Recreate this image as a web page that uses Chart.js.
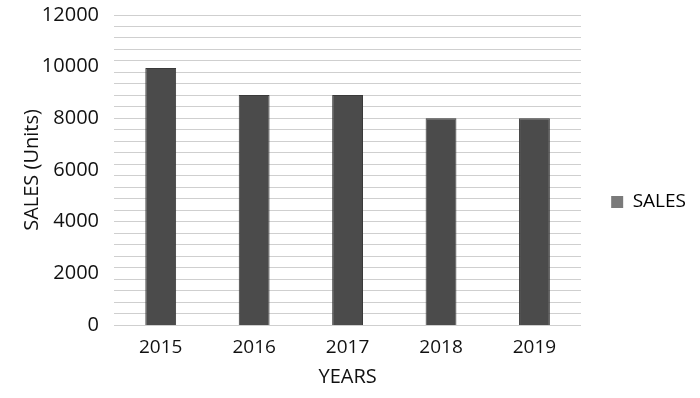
<!DOCTYPE html>
<html>
<head>
<meta charset="utf-8">
<script src="https://cdn.jsdelivr.net/npm/chart.js@4.4.0/dist/chart.umd.min.js"></script>
<style>
  html, body { margin: 0; padding: 0; background: #fff; }
  #wrap { width: 700px; height: 398px; }
</style>
</head>
<body>
<div id="wrap"><canvas id="salesChart"></canvas></div>
<script>
// values
const years = ['2015', '2016', '2017', '2018', '2019'];
const sales = [9950, 8900, 8900, 8000, 8000];
const yTicks = [0, 2000, 4000, 6000, 8000, 10000, 12000];

const ctx = document.getElementById('salesChart');
const fontFamily = '"Open Sans", sans-serif';

new Chart(ctx, {
    type: 'bar',
    data: {
        labels: years,
        datasets: [{
            label: 'SALES',
            data: sales,
            backgroundColor: '#4b4b4b',
            borderColor: '#3a3a3a',
            borderWidth: 1,
            categoryPercentage: 1,
            barPercentage: 0.33
        }]
    },
    options: {
        responsive: true,
        maintainAspectRatio: false,
        animation: false,
        layout: {
            padding: { top: 15, right: 4, bottom: 9, left: 20 }
        },
        plugins: {
            legend: {
                position: 'right',
                labels: {
                    boxWidth: 12,
                    boxHeight: 12,
                    padding: 10,
                    color: '#1a1a1a',
                    font: { size: 19, family: fontFamily },
                    generateLabels: function(chart) {
                        return [{
                            text: 'SALES',
                            fillStyle: '#7a7a7a',
                            strokeStyle: '#7a7a7a',
                            lineWidth: 0,
                            datasetIndex: 0
                        }];
                    }
                }
            },
            tooltip: { enabled: false }
        },
        scales: {
            x: {
                grid: { display: false, drawTicks: false },
                border: { display: false },
                ticks: {
                    color: '#111',
                    padding: 11,
                    font: { size: 19, family: fontFamily }
                },
                title: {
                    display: true,
                    text: 'YEARS',
                    color: '#111',
                    padding: { top: 8, bottom: 2 },
                    font: { size: 20, family: fontFamily, lineHeight: 1 }
                },
                afterFit: function(axis) {
                    axis.height = 64;
                }
            },
            y: {
                min: 0,
                max: 12000,
                afterBuildTicks: function(axis) {
                    axis.ticks = yTicks.map(v => ({ value: v }));
                },
                grid: { display: false, drawTicks: false },
                border: { display: false },
                ticks: {
                    color: '#111',
                    padding: 15,
                    font: { size: 20, family: fontFamily },
                    callback: function(value) {
                        return String(value);
                    }
                },
                title: {
                    display: true,
                    text: 'SALES (Units)',
                    color: '#111',
                    padding: { top: 2, bottom: 0 },
                    font: { size: 20, family: fontFamily, lineHeight: 1 }
                },
                afterFit: function(axis) {
                    axis.width = 94;
                    axis.paddingTop = 0;
                    axis.paddingBottom = 0;
                }
            },
            yGrid: {
                position: 'right',
                min: 0,
                max: 27,
                grid: { color: '#cfcfcf', lineWidth: 1, drawTicks: false },
                border: { display: false },
                ticks: { display: false, stepSize: 1 },
                afterFit: function(axis) {
                    axis.width = 20;
                }
            }
        }
    }
});
</script>
</body>
</html>
